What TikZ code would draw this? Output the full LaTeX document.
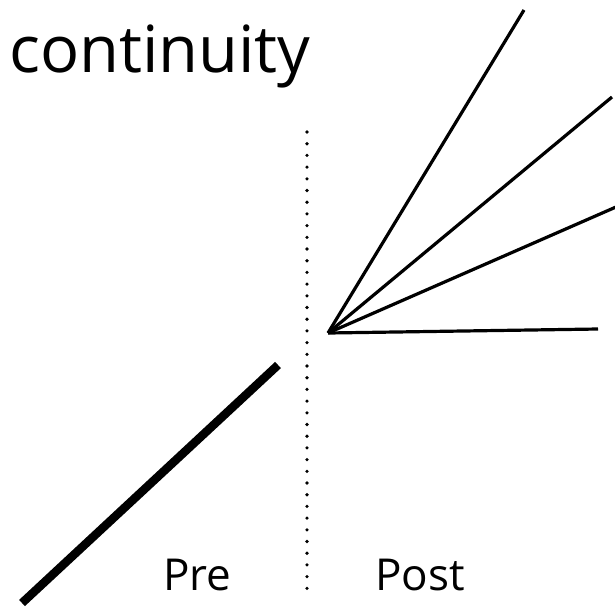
\documentclass[tikz,border=0pt]{standalone}
\usepackage{fontspec}
\setmainfont{Open Sans}
\begin{document}
\begin{tikzpicture}[x=1pt,y=-1pt,
  ray/.style={line width=3.2pt},
  boundary/.style={line width=3.6pt,line cap=round,dash pattern=on 0pt off 11.7pt},
  label/.style={inner sep=0pt,anchor=base west,font=\fontsize{44}{44}\selectfont},
  title/.style={inner sep=0pt,anchor=base west,font=\fontsize{65}{65}\selectfont}]
\useasboundingbox (0,0) rectangle (615,611);
% heading
\node[title] (head) at (9,72) {continuity};
% separator between the two phases
\coordinate (sepTop) at (307,132);
\coordinate (sepBot) at (307,597);
\draw[boundary] (sepTop) -- (sepBot);
% single trajectory before the boundary
\coordinate (preStart) at (22,603);
\coordinate (preEnd) at (278,365);
\draw[line width=8.5pt] (preStart) -- (preEnd);
% fan of possible trajectories after the boundary
\coordinate (origin) at (328,333);
\coordinate (r1) at (524,10);
\coordinate (r2) at (612,97);
\coordinate (r3) at (616,207);
\coordinate (r4) at (598,329);
\foreach \r in {r1,r2,r3,r4} \draw[ray] (origin) -- (\r);
% phase labels
\node[label] (pre) at (163,590) {Pre};
\node[label] (post) at (375,590) {Post};
\end{tikzpicture}
\end{document}
